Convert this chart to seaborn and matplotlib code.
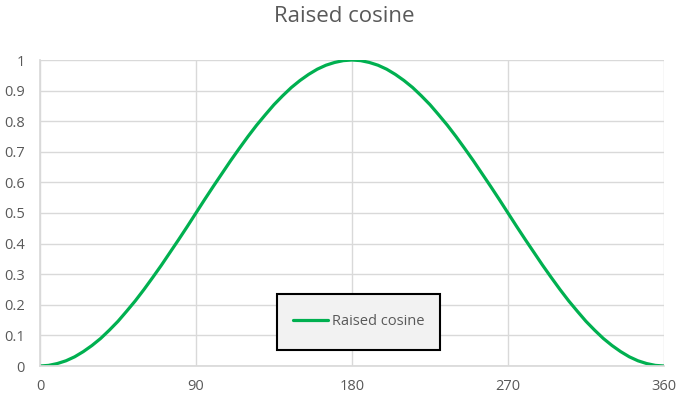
import matplotlib
matplotlib.use("Agg")
import matplotlib.pyplot as plt
from matplotlib.patches import Rectangle
import seaborn as sns
import pandas as pd

# Angle in degrees and the raised-cosine response
angle = list(range(0, 361, 5))
response = [
    0.000, 0.002, 0.008, 0.017, 0.030, 0.047, 0.067, 0.090, 0.117, 0.146,
    0.179, 0.213, 0.250, 0.289, 0.329, 0.371, 0.413, 0.456, 0.500, 0.544,
    0.587, 0.629, 0.671, 0.711, 0.750, 0.787, 0.821, 0.854, 0.883, 0.910,
    0.933, 0.953, 0.970, 0.983, 0.992, 0.998, 1.000, 0.998, 0.992, 0.983,
    0.970, 0.953, 0.933, 0.910, 0.883, 0.854, 0.821, 0.787, 0.750, 0.711,
    0.671, 0.629, 0.587, 0.544, 0.500, 0.456, 0.413, 0.371, 0.329, 0.289,
    0.250, 0.213, 0.179, 0.146, 0.117, 0.090, 0.067, 0.047, 0.030, 0.017,
    0.008, 0.002, 0.000,
]
x_ticks = [0, 90, 180, 270, 360]
y_ticks = [0, 0.1, 0.2, 0.3, 0.4, 0.5, 0.6, 0.7, 0.8, 0.9, 1]
y_labels = ["0", "0.1", "0.2", "0.3", "0.4", "0.5", "0.6", "0.7", "0.8", "0.9", "1"]
series_name = "Raised cosine"

df = pd.DataFrame({"angle": angle, "value": response})

sns.set_theme(style="white")
plt.rcParams["font.family"] = ["Open Sans", "DejaVu Sans"]

text_color = "#595959"
grid_color = "#d9d9d9"

fig = plt.figure(figsize=(6.89, 4.0), dpi=100)
ax = fig.add_axes([0.058, 0.085, 0.9057, 0.765])

sns.lineplot(data=df, x="angle", y="value", ax=ax, color="#00b050",
             linewidth=2.3, label=series_name)

ax.set_xlim(0, 360)
ax.set_ylim(0, 1)
ax.set_xticks(x_ticks)
ax.set_xticklabels([str(t) for t in x_ticks])
ax.set_yticks(y_ticks)
ax.set_yticklabels(y_labels)
ax.grid(True, color=grid_color, linewidth=1.0)
ax.set_axisbelow(True)

for side in ["top", "right"]:
    ax.spines[side].set_visible(False)
ax.spines["left"].set_color(grid_color)
ax.spines["bottom"].set_color(grid_color)

ax.tick_params(axis="both", length=0, colors=text_color, labelsize=10.5)
ax.tick_params(axis="x", pad=9)
ax.tick_params(axis="y", pad=11)
ax.set_xlabel("")
ax.set_ylabel("")

fig.suptitle("Raised cosine", x=0.5, y=0.985, fontsize=16, color=text_color)

# Legend box: a fixed panel with the legend entry centred inside it
panel = Rectangle((0.380, 0.052), 0.261, 0.183, transform=ax.transAxes,
                  facecolor="#f2f2f2", edgecolor="black", linewidth=1.5,
                  zorder=4)
ax.add_patch(panel)

leg = ax.legend(loc="center", bbox_to_anchor=(0.5105, 0.144), frameon=False,
                fontsize=10.5, handlelength=2.4, handletextpad=0.3,
                borderpad=0, borderaxespad=0)
leg.set_zorder(5)
for t in leg.get_texts():
    t.set_color(text_color)

fig.savefig("out.png", dpi=100)
